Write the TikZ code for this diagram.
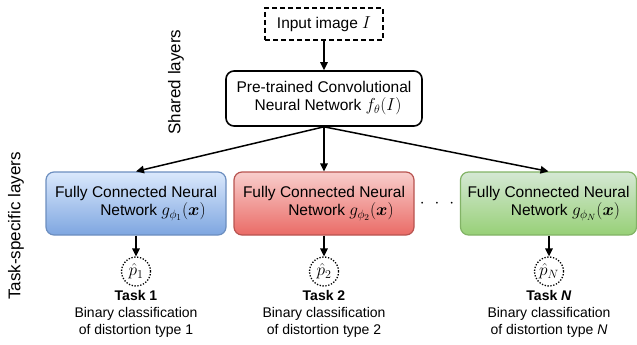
\documentclass[tikz,border=0pt]{standalone}
\usepackage{amsmath}
\usepackage{fontspec}
\setmainfont{Liberation Sans}
\usetikzlibrary{arrows.meta}
\definecolor{bluetop}{HTML}{DAE8FC}
\definecolor{bluebot}{HTML}{7EA6E0}
\definecolor{bluedraw}{HTML}{6C8EBF}
\definecolor{redtop}{HTML}{F8CECC}
\definecolor{redbot}{HTML}{EA6B66}
\definecolor{reddraw}{HTML}{B85450}
\definecolor{greentop}{HTML}{D5E8D4}
\definecolor{greenbot}{HTML}{97D077}
\definecolor{greendraw}{HTML}{82B366}
\newcommand{\mymath}[1]{{\fontsize{18}{18}\selectfont$#1$}}
\begin{document}
\begin{tikzpicture}[x=1pt,y=-1pt,
  boxfont/.style={font=\fontsize{15.5}{18}\selectfont},
  taskbox/.style={boxfont, rounded corners=8pt, minimum width=180pt, minimum height=63pt, align=center, line width=1.2pt, inner sep=0pt},
  arr/.style={-{Triangle[length=8pt,width=7.5pt]}, line width=1.5pt},
  outcircle/.style={circle, draw, dash pattern=on 1.3pt off 1.6pt, line width=1.3pt, minimum size=29pt, inner sep=0pt},
  tasklabel/.style={align=center, font=\fontsize{14}{17}\selectfont},
  sidelabel/.style={rotate=90, font=\fontsize{17}{17}\selectfont}]
\useasboundingbox (0,0) rectangle (637,345);

\node[draw, dash pattern=on 5pt off 3pt, line width=1.2pt, minimum width=118pt, minimum height=32pt, inner sep=0pt, boxfont] (in) at (324,24) {Input image \mymath{I}};
\node[draw, rounded corners=8pt, line width=1.6pt, minimum width=196pt, minimum height=55pt, inner sep=0pt, align=center, boxfont] (cnn) at (324,98.5) {Pre-trained Convolutional\\\hspace*{8pt}Neural Network \mymath{f_\theta(I)}};

\node[sidelabel] (shared) at (176,82) {Shared layers};
\node[sidelabel] (tasksp) at (16,226) {Task-specific layers};

\node[taskbox, draw=bluedraw, top color=bluetop, bottom color=bluebot] (b1) at (136,203.5) {Fully Connected Neural\\\hspace*{34pt}Network \mymath{g_{\phi_1}(\boldsymbol{x})}};
\node[taskbox, draw=reddraw, top color=redtop, bottom color=redbot] (b2) at (324,203.5) {Fully Connected Neural\\\hspace*{34pt}Network \mymath{g_{\phi_2}(\boldsymbol{x})}};
\node[taskbox, minimum width=176pt, draw=greendraw, top color=greentop, bottom color=greenbot] (b3) at (548.5,203.5) {Fully Connected Neural\\\hspace*{34pt}Network \mymath{g_{\phi_N}(\boldsymbol{x})}};

\node[font=\fontsize{16}{16}\selectfont, inner sep=0pt] (dots) at (437,204) {$\cdot$\hspace{10pt}$\cdot$\hspace{10pt}$\cdot$};

\draw[arr] (in) -- (cnn);
\draw[arr] (cnn.south) -- (b1.north);
\draw[arr] (cnn.south) -- (b2.north);
\draw[arr] (cnn.south) -- (b3.north);

\node[outcircle] (p1) at (136,271.5) {\mymath{\hat{p}_1}};
\node[outcircle] (p2) at (324,271.5) {\mymath{\hat{p}_2}};
\node[outcircle] (p3) at (549,271.5) {\mymath{\hat{p}_N}};

\draw[arr] (b1.south) -- (p1.north);
\draw[arr] (b2.south) -- (p2.north);
\draw[arr] (b3.south -| p3) -- (p3.north);

\node[tasklabel] (t1) at (136,314) {\textbf{Task 1}\\Binary classification\\of distortion type 1};
\node[tasklabel] (t2) at (324,314) {\textbf{Task 2}\\Binary classification\\of distortion type 2};
\node[tasklabel] (t3) at (549,314) {\textbf{Task \textit{N}}\\Binary classification\\of distortion type \textit{N}};
\end{tikzpicture}
\end{document}
